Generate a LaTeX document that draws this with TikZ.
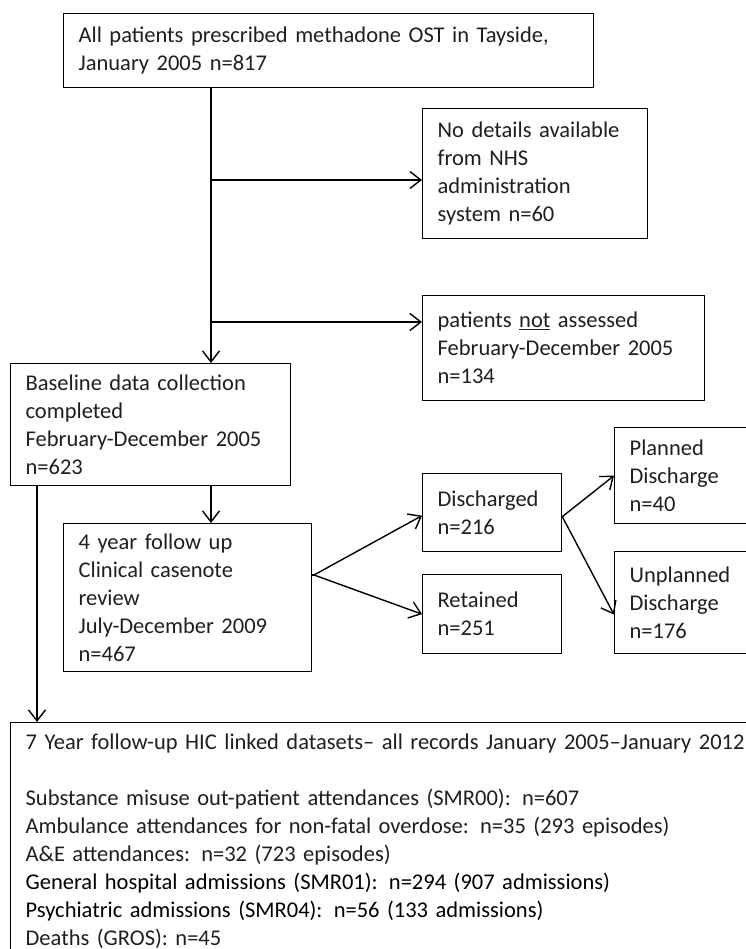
\documentclass[tikz,border=0pt]{standalone}
\usepackage{fontspec}
\setmainfont{Carlito}
\usepackage{tikz}
\usetikzlibrary{arrows.meta,positioning,calc}

\begin{document}
\begin{tikzpicture}[x=1pt, y=-1pt,
  stage/.style={draw=black, fill=white, rectangle, line width=1.3pt,
    anchor=north west, align=left, inner xsep=15pt, inner ysep=8pt,
    font=\fontsize{22.5}{28}\selectfont, text=black!88},
  ar/.style={-{Straight Barb[length=11pt,width=17pt]}, line width=1.4pt},
  plain/.style={line width=1.4pt},
]
\useasboundingbox (0,0) rectangle (745,949);

%--- Top of the trunk ---
\node[stage, text width=500pt, minimum height=74pt] (all) at (63,13)
  {All patients prescribed methadone OST in Tayside,\\January 2005 n=817};

%--- Exclusions ---
\node[stage, text width=195pt, minimum height=130pt] (nodet) at (422,108)
  {No details available\\from NHS\\administration\\system n=60};
\node[stage, text width=252pt, minimum height=105pt] (notass) at (422,295)
  {patients \underline{not} assessed\\February-December 2005\\n=134};

%--- Baseline and 4 year follow up ---
\node[stage, text width=250pt, minimum height=122pt] (base) at (10,363)
  {Baseline data collection\\completed\\February-December 2005\\n=623};
\node[stage, text width=218pt, minimum height=148pt] (fu4) at (63,523)
  {4 year follow up\\Clinical casenote\\review\\July-December 2009\\n=467};

%--- Outcome at 4 years ---
\node[stage, text width=109pt, minimum height=78pt] (disc) at (422,473)
  {Discharged\\n=216};
\node[stage, text width=109pt, minimum height=79pt] (ret) at (422,574)
  {Retained\\n=251};
\node[stage, text width=130pt, minimum height=96pt] (plan) at (614,427)
  {Planned\\Discharge\\n=40};
\node[stage, text width=130pt, minimum height=102pt] (unplan) at (614,551)
  {Unplanned\\Discharge\\n=176};

%--- 7 year linked datasets ---
\node[stage, text width=800pt, inner ysep=11pt] (hic) at (10,722)
  {7 Year follow-up HIC linked datasets– all records January 2005–January 2012\\[28pt]
   Substance misuse out-patient attendances (SMR00): n=607\\
   Ambulance attendances for non-fatal overdose: n=35 (293 episodes)\\
   A\&E attendances: n=32 (723 episodes)\\
   \textcolor{black}{General hospital admissions (SMR01): n=294 (907 admissions)}\\
   \textcolor{black}{Psychiatric admissions (SMR04): n=56 (133 admissions)}\\
   Deaths (GROS): n=45};

%--- Connectors ---
\coordinate (trunk) at (211,0);
\coordinate (side)  at (37,0);
\coordinate (in2)   at (422,180);
\coordinate (in3)   at (422,322);
\coordinate (fork)  at (314,575);

\draw[ar] (trunk |- all.south) -- (trunk |- base.north);
\draw[ar] (trunk |- in2) -- (in2);
\draw[ar] (trunk |- in3) -- (in3);
\draw[ar] (trunk |- base.south) -- (trunk |- fu4.north);
\draw[ar] (side |- base.south) -- (side |- hic.north);

\draw[plain] (fu4.east |- fork) -- (fork);
\draw[ar] (fork) -- ([yshift=-3pt]disc.west);
\draw[ar] (fork) -- (ret.west);
\draw[ar] ([yshift=-4pt]disc.east) -- (plan.west);
\draw[ar] ([yshift=-4pt]disc.east) -- ([yshift=-12pt]unplan.west);

\end{tikzpicture}
\end{document}
